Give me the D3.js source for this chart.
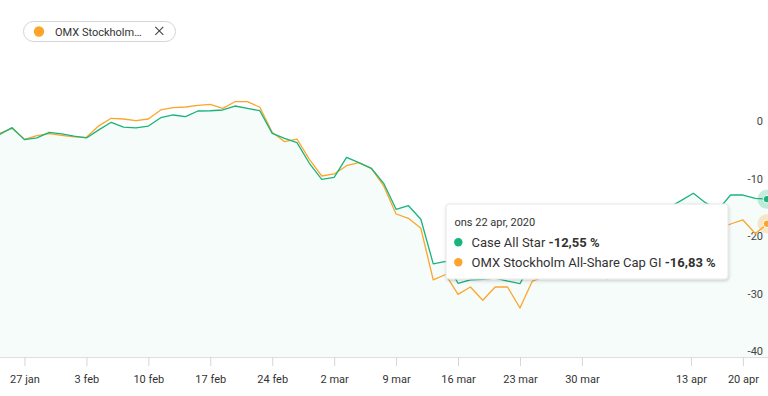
<!DOCTYPE html>
<html>
<head>
<meta charset="utf-8">
<script src="https://cdn.jsdelivr.net/npm/d3@7"></script>
<style>
  body { margin: 0; background: #fff; }
  svg { display: block; font-family: Roboto, "Noto Sans", sans-serif; }
</style>
</head>
<body>
<div id="graph"></div>
<script>
//Javascript Document

(function(){
	"use strict";

	// trading days (weekends + easter holidays left out)
	var dates = [
		"2020-01-23","2020-01-24","2020-01-27","2020-01-28","2020-01-29","2020-01-30","2020-01-31",
		"2020-02-03","2020-02-04","2020-02-05","2020-02-06","2020-02-07",
		"2020-02-10","2020-02-11","2020-02-12","2020-02-13","2020-02-14",
		"2020-02-17","2020-02-18","2020-02-19","2020-02-20","2020-02-21",
		"2020-02-24","2020-02-25","2020-02-26","2020-02-27","2020-02-28",
		"2020-03-02","2020-03-03","2020-03-04","2020-03-05","2020-03-06",
		"2020-03-09","2020-03-10","2020-03-11","2020-03-12","2020-03-13",
		"2020-03-16","2020-03-17","2020-03-18","2020-03-19","2020-03-20",
		"2020-03-23","2020-03-24","2020-03-25","2020-03-26","2020-03-27",
		"2020-03-30","2020-03-31","2020-04-01","2020-04-02","2020-04-03",
		"2020-04-06","2020-04-07","2020-04-08","2020-04-09",
		"2020-04-14","2020-04-15","2020-04-16","2020-04-17",
		"2020-04-20","2020-04-21","2020-04-22"
	];

	// Case All Star, % development
	var caseAllStar = [
		-1.27, -0.12, -2.2, -1.9, -0.95, -1.2, -1.6,
		-1.9, -0.5, 0.82, -0.02, -0.15,
		0.17, 1.62, 2.09, 1.79, 2.78,
		2.83, 2.96, 3.65, 3.25, 2.83,
		-1.1, -1.97, -2.73, -6.31, -9.1,
		-8.75, -5.27, -6.21, -7.18, -9.79,
		-14.31, -13.69, -16.05, -23.8, -23.36,
		-27.18, -26.6, -26.49, -26.3, -26.8,
		-27.25, -23.2, -22.0, -19.8, -21.5,
		-20.6, -19.6, -22.0, -21.0, -21.2,
		-17.9, -16.6, -14.0, -12.8,
		-11.53, -13.2, -14.4, -11.83,
		-11.83, -12.43, -12.55
	];

	// OMX Stockholm All-Share Cap GI, % development
	var omxAllShare = [
		-1.1, -0.23, -2.14, -1.5, -1.15, -1.45, -1.7,
		-1.8, 0.2, 1.51, 1.39, 1.1,
		1.39, 2.96, 3.36, 3.48, 3.77,
		3.95, 3.25, 4.4, 4.4, 3.43,
		-0.9, -2.56, -2.09, -5.62, -8.52,
		-8.17, -6.73, -6.21, -7.18, -10.26,
		-15.13, -15.88, -17.62, -26.6, -25.65,
		-29.1, -27.83, -30.14, -27.83, -27.83,
		-31.48, -26.8, -26.0, -24.2, -25.8,
		-25.0, -24.0, -26.4, -25.5, -25.7,
		-22.6, -21.0, -18.6, -16.9,
		-15.6, -17.2, -17.5, -16.87,
		-16.17, -18.52, -16.83
	];

	var tickDates = ["2020-01-27","2020-02-03","2020-02-10","2020-02-17","2020-02-24","2020-03-02",
		"2020-03-09","2020-03-16","2020-03-23","2020-03-30","2020-04-13","2020-04-20"];
	var tickLabels = ["27 jan","3 feb","10 feb","17 feb","24 feb","2 mar",
		"9 mar","16 mar","23 mar","30 mar","13 apr","20 apr"];
	var yTicks = [0, -10, -20, -30, -40];

	var seriesNames = ["Case All Star", "OMX Stockholm All-Share Cap GI"];
	var colors = ["#18b47c", "#fda52b"];

	var W = 768, H = 396;
	var plot = {left: -0.3, right: 767.7, top: 127, bottom: 357};

	var parse = d3.timeParse("%Y-%m-%d");
	var days = dates.map(parse);

	// ordinal-like time axis: every trading day gets the same width
	var step = (plot.right - plot.left) / (days.length - 1);
	var x = d3.scaleTime()
		.domain(days)
		.range(days.map(function(d, i) { return plot.left + i * step; }));

	var y = d3.scaleLinear()
		.domain([-40, 0])
		.range([plot.bottom, plot.top]);

	var svg = d3.select("#graph").append("svg")
		.attr("width", W)
		.attr("height", H);

	var defs = svg.append("defs");
	var shadow = defs.append("filter").attr("id", "shadow")
		.attr("x", "-10%").attr("y", "-20%").attr("width", "120%").attr("height", "150%");
	shadow.append("feDropShadow")
		.attr("dx", 0.5).attr("dy", 1.5)
		.attr("stdDeviation", 1.5)
		.attr("flood-color", "#000")
		.attr("flood-opacity", 0.18);

	var rowsA = days.map(function(d, i) { return {date: d, v: caseAllStar[i]}; });
	var rowsB = days.map(function(d, i) { return {date: d, v: omxAllShare[i]}; });

	// light area under the Case All Star line
	var area = d3.area()
		.x(function(d) { return x(d.date); })
		.y0(plot.bottom)
		.y1(function(d) { return y(d.v); });

	svg.append("path")
		.datum(rowsA)
		.attr("d", area)
		.attr("fill", colors[0])
		.attr("fill-opacity", 0.045);

	//x axis with tick marks below the baseline
	var xAxis = svg.append("g")
		.attr("transform", "translate(0," + plot.bottom + ")")
		.call(d3.axisBottom(x)
			.tickValues(tickDates.map(parse))
			.tickFormat(function(d, i) { return tickLabels[i]; })
			.tickSize(9)
			.tickSizeOuter(0)
			.tickPadding(9));
	xAxis.select(".domain").attr("stroke", "#dedede");
	xAxis.selectAll(".tick line").attr("stroke", "#d6d6d6");
	xAxis.selectAll(".tick text")
		.attr("fill", "#333")
		.style("font-size", "11px")
		.style("font-family", "Roboto, sans-serif");

	//y labels on the right, sitting just above their value
	var yAxis = svg.append("g")
		.attr("transform", "translate(763,0)")
		.call(d3.axisLeft(y)
			.tickValues(yTicks)
			.tickFormat(function(d) { return String(d); })
			.tickSize(0)
			.tickPadding(0));
	yAxis.select(".domain").remove();
	yAxis.selectAll(".tick text")
		.attr("fill", "#444")
		.attr("dy", "-0.2em")
		.style("font-size", "11px")
		.style("font-family", "Roboto, sans-serif");

	var line = d3.line()
		.x(function(d) { return x(d.date); })
		.y(function(d) { return y(d.v); });

	[rowsB, rowsA].forEach(function(rows, k) {
		svg.append("path")
			.datum(rows)
			.attr("d", line)
			.attr("fill", "none")
			.attr("stroke", colors[1 - k])
			.attr("stroke-width", 1.3)
			.attr("stroke-linejoin", "round");
	});

	//hover markers at the last day
	var last = days.length - 1;
	[caseAllStar, omxAllShare].forEach(function(vals, k) {
		var cx = x(days[last]) - 0.7, cy = y(vals[last]);
		svg.append("circle").attr("cx", cx).attr("cy", cy).attr("r", 9.5)
			.attr("fill", colors[k]).attr("fill-opacity", 0.25);
		svg.append("circle").attr("cx", cx).attr("cy", cy).attr("r", 3.8)
			.attr("fill", colors[k]).attr("stroke", "#fff").attr("stroke-width", 1);
	});

	//legend chip top left
	var chip = svg.append("g").attr("transform", "translate(23,21)");
	chip.append("rect")
		.attr("x", 0.5).attr("y", 0.5)
		.attr("width", 152).attr("height", 20)
		.attr("rx", 10)
		.attr("fill", "#fff")
		.attr("stroke", "#d4d4d4");
	chip.append("circle").attr("cx", 16).attr("cy", 10.5).attr("r", 5.2).attr("fill", colors[1]);
	chip.append("text")
		.attr("x", 32).attr("y", 14.6)
		.attr("fill", "#333")
		.style("font-size", "11px")
		.text("OMX Stockholm…");
	chip.append("path")
		.attr("d", "M132.3,5.8L140.3,13.8M140.3,5.8L132.3,13.8")
		.attr("stroke", "#444")
		.attr("stroke-width", 1.1);

	//tooltip for 22 apr
	var tip = svg.append("g").attr("transform", "translate(446,204)");
	tip.append("rect")
		.attr("width", 282).attr("height", 75)
		.attr("rx", 3)
		.attr("fill", "#fff")
		.attr("stroke", "#e6e6e6")
		.attr("filter", "url(#shadow)");
	tip.append("text")
		.attr("x", 8.5).attr("y", 21.5)
		.attr("fill", "#333")
		.style("font-size", "11px")
		.text("ons 22 apr, 2020");

	var fmt = function(v) { return v.toFixed(2).replace(".", ",") + " %"; };
	[caseAllStar, omxAllShare].forEach(function(vals, k) {
		var row = tip.append("g").attr("transform", "translate(0," + (38.3 + k * 20) + ")");
		row.append("circle").attr("cx", 12.3).attr("cy", 0).attr("r", 4.2).attr("fill", colors[k]);
		var t = row.append("text").attr("x", 25.5).attr("y", 4.5).attr("fill", "#333").style("font-size", "13px");
		t.append("tspan").text(seriesNames[k] + " ");
		t.append("tspan").attr("font-weight", "bold").text(fmt(vals[last]));
	});

})();
</script>
</body>
</html>
